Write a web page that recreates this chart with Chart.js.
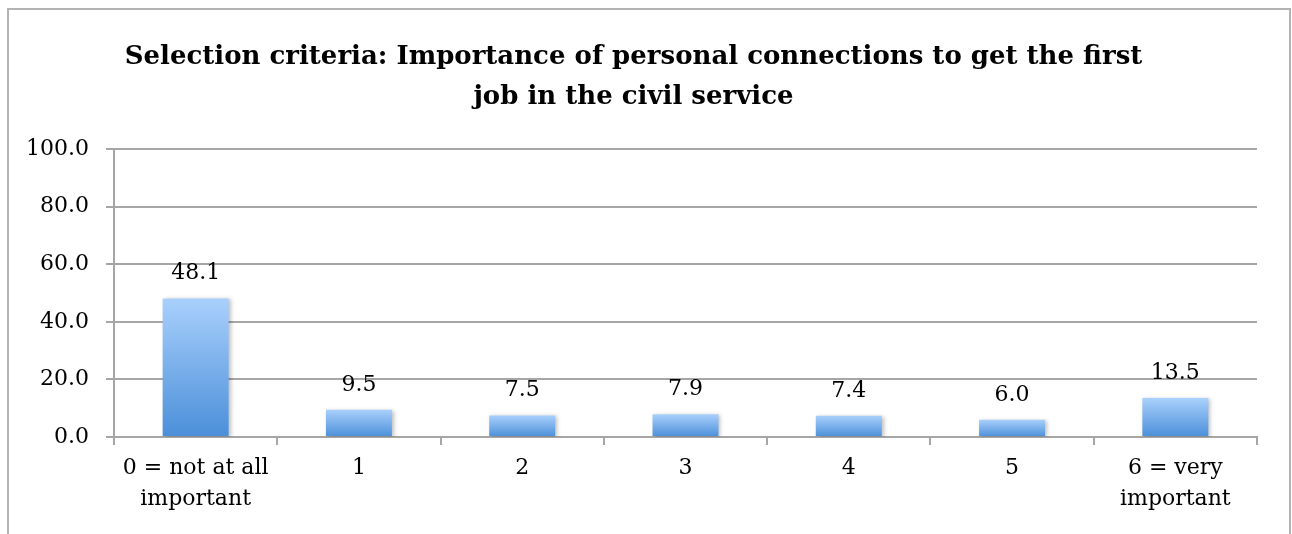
<!DOCTYPE html>
<html>
<head>
<meta charset="utf-8">
<script src="https://cdn.jsdelivr.net/npm/chart.js@4.4.1/dist/chart.umd.min.js"></script>
<style>
  html, body { margin: 0; padding: 0; background: #fff; }
  #wrap { position: relative; width: 1292px; height: 534px; overflow: hidden; }
  #frame { position: absolute; left: 7px; top: 8px; width: 1280px; height: 600px;
           border: 2px solid #b3b3b3; pointer-events: none; }
</style>
</head>
<body>
<div id="wrap">
  <canvas id="chart" width="1292" height="534"></canvas>
  <div id="frame"></div>
</div>
<script>
// 資料
const categories = [['0 = not at all', 'important'], '1', '2', '3', '4', '5', ['6 = very', 'important']];
const values = [48.1, 9.5, 7.5, 7.9, 7.4, 6.0, 13.5];
const titleLines = ['Selection criteria: Importance of personal connections to get the first', 'job in the civil service'];
const yTicks = [0, 20, 40, 60, 80, 100];

const serif = '"DejaVu Serif", "Liberation Serif", serif';
const gridGray = '#a6a6a6';

// 每根柱子的漸層
function barGradient(context) {
    const chart = context.chart;
    const y = chart.scales.y;
    if (!y) return '#79aff0';
    const top = y.getPixelForValue(values[context.dataIndex]);
    const bottom = y.getPixelForValue(0);
    if (!isFinite(top) || !isFinite(bottom) || top === bottom) return '#79aff0';
    const g = chart.ctx.createLinearGradient(0, top, 0, bottom);
    g.addColorStop(0, '#a9d0fc');
    g.addColorStop(1, '#4b8fd9');
    return g;
}

// 柱子陰影
const shadowPlugin = {
    id: 'barShadow',
    beforeDatasetsDraw(chart) {
        const ctx = chart.ctx;
        ctx.save();
        ctx.shadowColor = 'rgba(0,0,0,0.25)';
        ctx.shadowBlur = 4;
        ctx.shadowOffsetX = 2;
        ctx.shadowOffsetY = 1;
    },
    afterDatasetsDraw(chart) {
        chart.ctx.restore();
    }
};

// 數值標籤
const valueLabels = {
    id: 'valueLabels',
    afterDatasetsDraw(chart) {
        const ctx = chart.ctx;
        const meta = chart.getDatasetMeta(0);
        ctx.save();
        ctx.font = '22px ' + serif;
        ctx.fillStyle = '#000';
        ctx.textAlign = 'center';
        ctx.textBaseline = 'alphabetic';
        meta.data.forEach(function(bar, i) {
            ctx.fillText(values[i].toFixed(1), bar.x, bar.y - 19);
        });
        ctx.restore();
    }
};

new Chart(document.getElementById('chart'), {
    type: 'bar',
    data: {
        labels: categories,
        datasets: [{
            data: values,
            backgroundColor: barGradient,
            borderWidth: 0,
            barPercentage: 0.404,
            categoryPercentage: 1
        }]
    },
    options: {
        responsive: false,
        animation: false,
        devicePixelRatio: 1,
        layout: {
            padding: { left: 10, right: 35, top: 0, bottom: 0 }
        },
        plugins: {
            legend: { display: false },
            tooltip: { enabled: false },
            title: {
                display: true,
                text: titleLines,
                color: '#000',
                font: { family: serif, size: 26, weight: 'bold', lineHeight: 1.538 },
                padding: { top: 37, bottom: 32 }
            }
        },
        scales: {
            y: {
                min: 0,
                max: 100,
                afterBuildTicks(scale) {
                    scale.ticks = yTicks.map(v => ({ value: v }));
                },
                afterFit(scale) {
                    scale.width = 104;
                },
                ticks: {
                    color: '#000',
                    padding: 17,
                    font: { family: serif, size: 22 },
                    callback: v => Number(v).toFixed(1)
                },
                grid: {
                    color: gridGray,
                    lineWidth: 2,
                    tickLength: 8
                },
                border: { color: gridGray, width: 2 }
            },
            x: {
                afterFit(scale) {
                    scale.height = 97;
                },
                ticks: {
                    color: '#000',
                    padding: 8,
                    maxRotation: 0,
                    autoSkip: false,
                    font: { family: serif, size: 22, lineHeight: 1.41 }
                },
                grid: {
                    offset: true,
                    drawOnChartArea: false,
                    color: gridGray,
                    lineWidth: 2,
                    tickLength: 8
                },
                border: { color: gridGray, width: 2 }
            }
        }
    },
    plugins: [shadowPlugin, valueLabels]
});
</script>
</body>
</html>
